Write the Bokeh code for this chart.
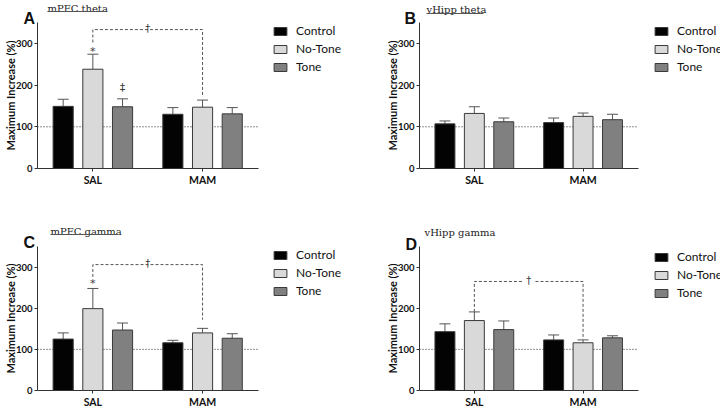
from bokeh.plotting import figure
from bokeh.models import (Range1d, FixedTicker, Span, Legend, LegendItem, Label,
                          Whisker, TeeHead, ColumnDataSource, BoxAnnotation, GridBox)
from bokeh.core.properties import value
from bokeh.embed import file_html
from bokeh.resources import INLINE

# ---------------- data ----------------
groups = ["SAL", "MAM"]
conditions = ["Control", "No-Tone", "Tone"]
y_ticks = [0, 100, 200, 300]
baseline = 100
y_label = "Maximum Increase (%)"

# panel A: mPFC theta  (rows = conditions, cols = groups)
a_mean = [[149, 130], [238, 147], [148, 131]]
a_upper = [[166, 146], [274, 164], [167, 146]]
# panel B: vHipp theta
b_mean = [[107, 110], [132, 125], [112, 117]]
b_upper = [[114, 121], [148, 133], [121, 130]]
# panel C: mPFC gamma
c_mean = [[125, 116], [199, 140], [147, 127]]
c_upper = [[140, 122], [248, 151], [164, 138]]
# panel D: vHipp gamma
d_mean = [[143, 123], [170, 116], [148, 128]]
d_upper = [[162, 135], [191, 123], [169, 133]]

# significance brackets: [left end, top, right end]
a_bracket = [302, 333, 175]
c_bracket = [276, 306, 172]
d_bracket = [191, 265, 125]
# marker texts: (group index, condition index, y, text)
a_marks = [(0, 1, 281, "*"), (0, 2, 194, "\u2021")]
c_marks = [(0, 1, 260, "*")]
d_marks = []

panel_titles = ["mPFC theta", "vHipp theta", "mPFC gamma", "vHipp gamma"]
panel_letters = ["A", "B", "C", "D"]

# ---------------- style ----------------
colors = ["#030303", "#d9d9d9", "#808080"]
BW = 0.1835
OFF = 0.2706
SANS = "Lato"
SERIF = "DejaVu Serif"
AX = "#333333"
ERR = "#555555"
SYM = "#3a3a3a"
W, H = 360, 205


def make_panel(means, uppers, bracket, marks, gap, left, right, top, bottom):
    p = figure(width=W, height=H, x_range=Range1d(-0.5046, 1.51),
               y_range=Range1d(0, 350), output_backend="svg",
               toolbar_location=None, min_border_left=left,
               min_border_right=right, min_border_top=top,
               min_border_bottom=bottom)
    p.outline_line_color = None
    p.grid.visible = False

    p.add_layout(Span(location=baseline, dimension="width", line_color="#222222",
                      line_dash="1 2", line_width=1, level="underlay"))

    for i, cond in enumerate(conditions):
        xs = [g + (i - 1) * OFF for g in range(len(groups))]
        p.vbar(x=xs, top=means[i], bottom=0, width=BW,
               fill_color=colors[i], line_color="#3a3a3a", line_width=1)
        src = ColumnDataSource(dict(x=xs, lower=means[i], upper=uppers[i]))
        p.add_layout(Whisker(base="x", lower="lower", upper="upper", source=src,
                             line_color=ERR, line_width=1, lower_head=None,
                             upper_head=TeeHead(size=11, line_color=ERR, line_width=1)))

    if bracket is not None:
        xl, xr = 0.0, 1.0
        mid = (xl + xr) / 2
        if gap:
            p.line([xl, xl, mid - gap], [bracket[0], bracket[1], bracket[1]],
                   line_dash="3 2", line_color=ERR, line_width=1)
            p.line([mid + gap, xr, xr], [bracket[1], bracket[1], bracket[2]],
                   line_dash="3 2", line_color=ERR, line_width=1)
        else:
            p.line([xl, xl, xr, xr], [bracket[0], bracket[1], bracket[1], bracket[2]],
                   line_dash="3 2", line_color=ERR, line_width=1)
        p.text(x=[mid], y=[bracket[1] + 3], text=["\u2020"], text_font=value("DejaVu Sans"),
               text_font_size="10px", text_align="center", text_baseline="middle",
               text_color=SYM)

    if marks:
        p.text(x=[m[0] + (m[1] - 1) * OFF for m in marks], y=[m[2] for m in marks],
               text=[m[3] for m in marks], text_font=value("DejaVu Sans"),
               text_font_size="11px", text_align="center", text_baseline="middle",
               text_color=SYM)

    p.xaxis.ticker = FixedTicker(ticks=list(range(len(groups))))
    p.xaxis.major_label_overrides = {i: g for i, g in enumerate(groups)}
    p.yaxis.ticker = FixedTicker(ticks=y_ticks)
    for ax in (p.xaxis, p.yaxis):
        ax.axis_line_color = AX
        ax.major_tick_line_color = AX
        ax.minor_tick_line_color = None
        ax.major_tick_out = 3
        ax.major_tick_in = 0
        ax.major_label_text_font = SANS
        ax.major_label_text_font_style = "bold"
        ax.major_label_text_color = "#111111"
        ax.major_label_standoff = 2
    p.xaxis.major_label_text_font_size = "10.5px"
    p.yaxis.major_label_text_font_size = "9.5px"
    p.yaxis.axis_label = y_label
    p.yaxis.axis_label_text_font = SANS
    p.yaxis.axis_label_text_font_style = "bold"
    p.yaxis.axis_label_text_font_size = "11px"
    p.yaxis.axis_label_text_color = "#111111"
    p.yaxis.axis_label_standoff = -4
    return p


def make_overlay(idx, means, letter_xy, title_xy, underline, legend_xy):
    o = figure(width=W, height=H, x_range=Range1d(0, W), y_range=Range1d(H, 0),
               output_backend="svg", toolbar_location=None, min_border=0,
               min_border_left=0, min_border_right=0, min_border_top=0,
               min_border_bottom=0,
               x_axis_location=None, y_axis_location=None,
               background_fill_alpha=0, border_fill_alpha=0)
    if "frame_align" in o.properties():
        o.frame_align = False
    o.outline_line_color = None
    o.grid.visible = False
    rs = []
    for i, cond in enumerate(conditions):
        # legend proxy: carries the series' data, hidden in this overlay
        src = ColumnDataSource(dict(x=list(range(len(groups))), top=means[i]))
        r = o.vbar(x="x", top="top", width=1, source=src,
                   fill_color=colors[i], line_color="#3a3a3a", line_width=1)
        r.visible = False
        rs.append(r)
    items = [LegendItem(label=c, renderers=[r]) for c, r in zip(conditions, rs)]
    o.add_layout(Legend(items=items, location=legend_xy, orientation="vertical",
                        glyph_width=16, glyph_height=10, label_standoff=8,
                        label_text_font=SANS, label_text_font_size="12px",
                        label_text_color="#111111",
                        label_height=14, spacing=3, padding=0, margin=0,
                        inactive_fill_alpha=0,
                        border_line_color=None, background_fill_alpha=0))
    o.add_layout(Label(x=letter_xy[0], y=letter_xy[1], text=panel_letters[idx],
                       text_font="Liberation Sans", text_font_size="16px",
                       text_font_style="bold", text_color="#111111",
                       text_baseline="alphabetic"))
    o.add_layout(Label(x=title_xy[0], y=title_xy[1], text=panel_titles[idx],
                       text_font=SERIF, text_font_size="10px",
                       text_color="#222222", text_baseline="alphabetic"))
    if underline is not None:
        o.add_layout(BoxAnnotation(left=underline[0], right=underline[1],
                                   top=underline[2], bottom=underline[2] + 0.9,
                                   fill_color="#555555", fill_alpha=1,
                                   line_color=None))
    return o


pA = make_panel(a_mean, a_upper, a_bracket, a_marks, 0, 37, 102, 22, 37)
pB = make_panel(b_mean, b_upper, None, [], 0, 59, 82, 22, 37)
pC = make_panel(c_mean, c_upper, c_bracket, c_marks, 0, 37, 102, 41, 18)
pD = make_panel(d_mean, d_upper, d_bracket, d_marks, 0.062, 59, 82, 41, 18)

oA = make_overlay(0, a_mean, (23, 18.3), (47, 8.3), (47, 106, 10.5), (272, 131))
oB = make_overlay(1, b_mean, (44, 18.3), (66, 9.3), (66, 123, 12.5), (293, 131))
oC = make_overlay(2, c_mean, (23, 37), (50, 25.7), (50, 117, 28.5), (272, 112))
oD = make_overlay(3, d_mean, (45, 39), (64, 27), None, (293, 110))

grid = GridBox(children=[(pA, 0, 0), (oA, 0, 0), (pB, 0, 1), (oB, 0, 1),
                         (pC, 1, 0), (oC, 1, 0), (pD, 1, 1), (oD, 1, 1)])

open("out.html", "w").write(file_html(grid, INLINE))
